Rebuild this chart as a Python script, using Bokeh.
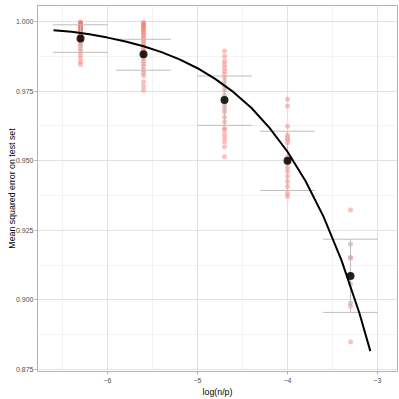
from bokeh.plotting import figure
from bokeh.models import FixedTicker, Range1d
from bokeh.embed import file_html
from bokeh.resources import INLINE

# ---- data ----
group_x = [-6.3, -5.6, -4.7, -4.0, -3.3]

g1 = [0.9998, 0.9996, 0.9994, 0.9992, 0.9990, 0.9988, 0.9986, 0.9984, 0.9981, 0.9978,
      0.9975, 0.9972, 0.9969, 0.9966, 0.9962, 0.9958, 0.9954, 0.9950, 0.9945, 0.9940,
      0.9935, 0.9928, 0.9920, 0.9912, 0.9903, 0.9893, 0.9880, 0.9868, 0.9855, 0.9845]
g2 = [0.9997, 0.9993, 0.9989, 0.9985, 0.9980, 0.9975, 0.9970, 0.9964, 0.9958, 0.9951,
      0.9944, 0.9937, 0.9930, 0.9922, 0.9914, 0.9906, 0.9897, 0.9888, 0.9878, 0.9868,
      0.9858, 0.9848, 0.9838, 0.9826, 0.9815, 0.9805, 0.9783, 0.9767, 0.9753]
g3 = [0.9894, 0.9875, 0.9858, 0.9846, 0.9834, 0.9822, 0.9810, 0.9798, 0.9783, 0.9767,
      0.9753, 0.9735, 0.9724, 0.9711, 0.9699, 0.9687, 0.9675, 0.9657, 0.9639, 0.9617,
      0.9610, 0.9595, 0.9581, 0.9568, 0.9550, 0.9514]
g4 = [0.9721, 0.9696, 0.9624, 0.9592, 0.9582, 0.9574, 0.9564, 0.9514, 0.9502, 0.9491,
      0.9475, 0.9461, 0.9443, 0.9425, 0.9407, 0.9383, 0.9371]
g5 = [0.9323, 0.9200, 0.9153, 0.9150, 0.9090, 0.9057, 0.8989, 0.8977, 0.8850]
groups = [g1, g2, g3, g4, g5]

means = [0.9939, 0.9882, 0.9718, 0.9500, 0.9086]
err_low = [0.9889, 0.9825, 0.9627, 0.9393, 0.8955]
err_high = [0.9988, 0.9936, 0.9804, 0.9606, 0.9218]
err_halfwidth = 0.305

curve_x = [-6.60, -6.40, -6.20, -6.00, -5.80, -5.60, -5.40, -5.20, -5.00, -4.80,
           -4.60, -4.40, -4.20, -4.00, -3.80, -3.60, -3.40, -3.20, -3.08]
curve_y = [0.9968, 0.9963, 0.9954, 0.9942, 0.9928, 0.9911, 0.9890, 0.9864, 0.9832, 0.9793,
           0.9746, 0.9689, 0.9618, 0.9532, 0.9427, 0.9299, 0.9142, 0.8951, 0.8816]

x_ticks = [-6, -5, -4, -3]
x_minor = [-6.5, -5.5, -4.5, -3.5]
y_ticks = [0.875, 0.900, 0.925, 0.950, 0.975, 1.000]
y_minor = [0.8875, 0.9125, 0.9375, 0.9625, 0.9875]

FONT = "Liberation Sans"

p = figure(width=399, height=399, output_backend="svg", toolbar_location=None,
           x_range=Range1d(-6.778, -2.778), y_range=Range1d(0.87428, 1.00573),
           min_border_left=37, min_border_right=2, min_border_top=5, min_border_bottom=27,
           background_fill_color="white", border_fill_color="white",
           styles={"position": "absolute", "left": "0px", "top": "0px"})

p.outline_line_color = "#B3B3B3"
p.outline_line_width = 1

# grids
for g in (p.xgrid, p.ygrid):
    g.grid_line_color = "#DEDEDE"
    g.grid_line_width = 0.9
    g.minor_grid_line_color = "#EBEBEB"
    g.minor_grid_line_width = 0.6

p.xaxis.ticker = FixedTicker(ticks=x_ticks, minor_ticks=x_minor)
p.yaxis.ticker = FixedTicker(ticks=y_ticks, minor_ticks=y_minor)
p.xaxis.major_label_overrides = {t: "\u2212" + str(abs(t)) for t in x_ticks}
p.yaxis.major_label_overrides = {t: "%.3f" % t for t in y_ticks}

for ax in (p.xaxis[0], p.yaxis[0]):
    ax.axis_line_color = None
    ax.major_tick_line_color = "#B3B3B3"
    ax.major_tick_in = 0
    ax.major_tick_out = 3
    ax.minor_tick_line_color = None
    ax.major_label_text_font = FONT
    ax.major_label_text_font_size = "7px"
    ax.major_label_text_color = "#4D4D4D"
    ax.axis_label_text_font = FONT
    ax.axis_label_text_font_size = "8.8px"
    ax.axis_label_text_font_style = "normal"
    ax.axis_label_text_color = "black"

p.xaxis.major_label_standoff = 2
p.xaxis.axis_label_standoff = 1
p.yaxis.major_label_standoff = 0
p.yaxis.axis_label_standoff = -4

p.xaxis.axis_label = "log(n/p)"
p.yaxis.axis_label = "Mean squared error on test set"

# raw points
px, py = [], []
for gx, vals in zip(group_x, groups):
    for v in vals:
        px.append(gx)
        py.append(v)
p.scatter(px, py, size=5, color="#F8766D", alpha=0.45, line_color=None)

# error bars
x0 = [x - err_halfwidth for x in group_x]
x1 = [x + err_halfwidth for x in group_x]
p.segment(x0, err_low, x1, err_low, line_color="#BDBDBD", line_width=1)
p.segment(x0, err_high, x1, err_high, line_color="#BDBDBD", line_width=1)
p.segment(group_x, err_low, group_x, err_high, line_color="#BDBDBD", line_width=1)

# means
p.scatter(group_x, means, size=8, color="black", alpha=0.85, line_color=None)

# fitted curve
p.line(curve_x, curve_y, line_color="black", line_width=2)

open("out.html", "w").write(file_html(p, INLINE))
